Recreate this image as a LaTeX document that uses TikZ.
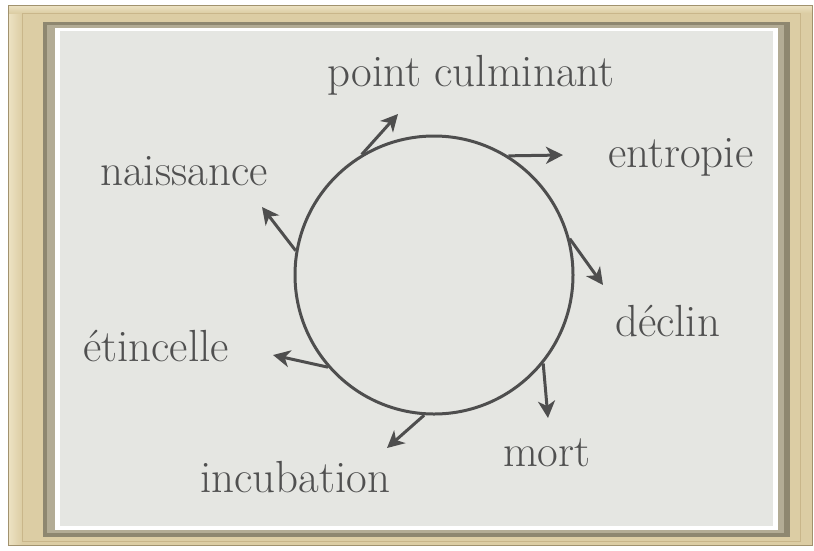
\documentclass[tikz,border=0pt]{standalone}
\usetikzlibrary{arrows.meta}
\definecolor{goldA}{HTML}{DCCDA4}
\definecolor{goldB}{HTML}{C9B68A}
\definecolor{goldC}{HTML}{EDE3C4}
\definecolor{bandA}{HTML}{8E8770}
\definecolor{bandB}{HTML}{B3AC95}
\definecolor{paper}{HTML}{E5E6E2}
\definecolor{ink}{HTML}{4E4E4E}
\definecolor{txt}{HTML}{505050}
\tikzset{
  lbl/.style={anchor=base west, inner sep=0pt, text=txt, font=\fontsize{45}{54}\selectfont},
  arr/.style={draw=ink, line width=3pt, -{Stealth[length=17pt,width=17pt,inset=5pt]}},
  ring/.style={circle, draw=ink, line width=3pt, minimum size=278pt, inner sep=0pt}
}
\begin{document}
\begin{tikzpicture}[x=1pt,y=-1pt]
\useasboundingbox (0,0) rectangle (814,550);
\fill[white] (0,0) rectangle (814,550);
% frame
\fill[goldA] (8,5) rectangle (812,545);
\shade[left color=goldC, right color=goldA] (8,5) rectangle (22,545);
\shade[top color=goldC, bottom color=goldA] (8,5) rectangle (812,13);
\draw[goldB, line width=1pt] (22,13) rectangle (800,541);
\draw[goldB!80!black, line width=0.6pt] (8,5) rectangle (812,545);
\fill[bandA] (43,22) rectangle (790,537);
\fill[bandB] (47,25) rectangle (784,533);
\fill[white] (55,28) rectangle (778,530);
\fill[paper] (60,31) rectangle (773,526);
% circle
\node[ring] (c) at (434,275) {};
\coordinate (e1) at (398,114);
\coordinate (e2) at (563,155);
\coordinate (e3) at (262,207);
\coordinate (e4) at (273,355);
\coordinate (e5) at (387,448);
\coordinate (e6) at (548,418);
\coordinate (e7) at (603,285);
\draw[arr] (c.121) -- (e1);
\draw[arr] (c.58) -- (e2);
\draw[arr] (c.170) -- (e3);
\draw[arr] (c.221) -- (e4);
\draw[arr] (c.266) -- (e5);
\draw[arr] (c.-39) -- (e6);
\draw[arr] (c.15) -- (e7);
% labels
\node[lbl] (t1) at (327,86) {point culminant};
\node[lbl] (t2) at (608,167) {entropie};
\node[lbl] (t3) at (100,185) {naissance};
\node[lbl] (t4) at (615,336) {déclin};
\node[lbl] (t5) at (83,361) {étincelle};
\node[lbl] (t6) at (503,466) {mort};
\node[lbl] (t7) at (200,492) {incubation};
\end{tikzpicture}
\end{document}
